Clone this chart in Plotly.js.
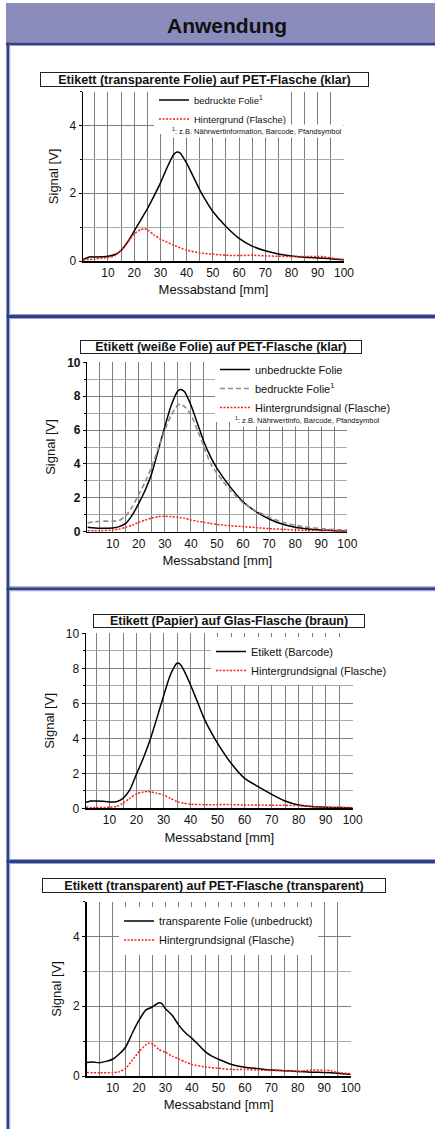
<!DOCTYPE html>
<html><head><meta charset="utf-8">
<script src="https://cdn.plot.ly/plotly-3.0.1.min.js"></script>
<style>html,body{margin:0;padding:0;background:#fff;overflow:hidden}#chart{width:435px;height:1129px}</style>
</head><body><div id="chart"></div>
<script>
// ---------- data ----------
const headerText = "Anwendung";
const xLabel = "Messabstand [mm]";
const yLabel = "Signal [V]";

// Chart 1: Etikett (transparente Folie) auf PET-Flasche (klar)
const title1 = "Etikett (transparente Folie) auf PET-Flasche (klar)";
const x1Folie = [0.5, 3, 5, 10, 13, 15, 17.5, 20, 22.5, 25, 27.5, 30, 32.5, 35, 36.3, 37.5, 40, 42.5, 45, 47.5, 50, 55, 60, 65, 70, 75, 80, 85, 90, 95, 100];
const y1Folie = [0.04, 0.12, 0.12, 0.14, 0.2, 0.31, 0.56, 0.88, 1.21, 1.54, 1.91, 2.3, 2.75, 3.14, 3.22, 3.19, 2.89, 2.5, 2.1, 1.76, 1.46, 1.02, 0.67, 0.44, 0.30, 0.21, 0.15, 0.11, 0.09, 0.07, 0.04];
const x1Grund = [0.5, 5, 10, 12.5, 15, 17.5, 20, 22.5, 24, 25.5, 27.5, 30, 35, 40, 45, 50, 55, 60, 65, 70, 75, 80, 85, 90, 92, 95, 100];
const y1Grund = [0.03, 0.06, 0.1, 0.15, 0.31, 0.54, 0.8, 0.93, 0.95, 0.9, 0.77, 0.65, 0.47, 0.32, 0.24, 0.2, 0.17, 0.16, 0.17, 0.15, 0.14, 0.13, 0.13, 0.13, 0.13, 0.09, 0.04];
const names1 = ["bedruckte Folie<sup>1</sup>", "Hintergrund (Flasche)"];
const note1 = "<sup>1</sup>: z.B. Nährwertinformation, Barcode, Pfandsymbol";

// Chart 2: Etikett (weiße Folie) auf PET-Flasche (klar)
const title2 = "Etikett (weiße Folie) auf PET-Flasche (klar)";
const x2 = [0.3, 5, 10, 12.5, 15, 17.5, 20, 22.5, 25, 27.5, 30, 32.5, 35, 36, 37.5, 40, 42.5, 45, 47.5, 50, 55, 60, 65, 70, 75, 80, 85, 90, 95, 100];
const y2Unbedruckt = [0.26, 0.2, 0.22, 0.3, 0.49, 0.98, 1.67, 2.46, 3.45, 4.82, 6.2, 7.48, 8.3, 8.4, 8.27, 7.48, 6.4, 5.31, 4.43, 3.74, 2.66, 1.77, 1.18, 0.75, 0.45, 0.26, 0.16, 0.1, 0.06, 0.04];
const y2Bedruckt = [0.52, 0.62, 0.62, 0.66, 0.93, 1.48, 2.2, 2.95, 3.84, 4.92, 6.0, 6.9, 7.48, 7.52, 7.4, 6.9, 6.0, 5.02, 4.04, 3.45, 2.46, 1.71, 1.22, 0.85, 0.57, 0.38, 0.26, 0.18, 0.12, 0.1];
const y2Grund = [0.06, 0.06, 0.1, 0.16, 0.26, 0.39, 0.55, 0.69, 0.81, 0.89, 0.91, 0.89, 0.85, 0.83, 0.8, 0.69, 0.62, 0.55, 0.49, 0.43, 0.35, 0.3, 0.24, 0.18, 0.14, 0.1, 0.08, 0.06, 0.06, 0.06];
const names2 = ["unbedruckte Folie", "bedruckte Folie<sup>1</sup>", "Hintergrundsignal (Flasche)"];
const note2 = "<sup>1</sup>: z.B. Nährwertinfo, Barcode, Pfandsymbol";

// Chart 3: Etikett (Papier) auf Glas-Flasche (braun)
const title3 = "Etikett (Papier) auf Glas-Flasche (braun)";
const x3Etikett = [1.3, 3, 5, 7.5, 10, 12.5, 15, 17.5, 20, 22.5, 25, 27.5, 30, 32.5, 35, 36, 37.5, 40, 42.5, 45, 47.5, 50, 55, 60, 65, 70, 75, 80, 85, 90, 95, 100];
const y3Etikett = [0.34, 0.42, 0.42, 0.4, 0.36, 0.38, 0.57, 1.05, 1.96, 2.86, 3.9, 5.14, 6.42, 7.62, 8.29, 8.25, 7.9, 7.05, 6.1, 5.14, 4.38, 3.71, 2.57, 1.71, 1.24, 0.8, 0.42, 0.19, 0.1, 0.06, 0.04, 0.02];
const x3Grund = [1.3, 5, 10, 12.5, 15, 17.5, 20, 22.5, 24, 25.5, 27.5, 30, 32.5, 35, 37.5, 40, 45, 50, 55, 60, 65, 70, 75, 80, 85, 90, 95, 100];
const y3Grund = [0.06, 0.04, 0.06, 0.1, 0.29, 0.57, 0.82, 0.93, 0.97, 0.94, 0.86, 0.76, 0.57, 0.38, 0.29, 0.23, 0.21, 0.21, 0.21, 0.19, 0.19, 0.17, 0.17, 0.15, 0.1, 0.06, 0.04, 0.04];
const names3 = ["Etikett (Barcode)", "Hintergrundsignal (Flasche)"];

// Chart 4: Etikett (transparent) auf PET-Flasche (transparent)
const title4 = "Etikett (transparent) auf PET-Flasche (transparent)";
const x4Folie = [0.2, 2.5, 5, 7.5, 10, 12.5, 15, 17.5, 20, 22.5, 25, 27.5, 28.5, 30, 32.5, 35, 37.5, 40, 42.5, 45, 47.5, 50, 55, 60, 65, 70, 75, 80, 85, 90, 95, 100];
const y4Folie = [0.39, 0.4, 0.38, 0.42, 0.48, 0.63, 0.84, 1.24, 1.6, 1.89, 1.98, 2.1, 2.08, 1.93, 1.74, 1.46, 1.24, 1.08, 0.89, 0.7, 0.57, 0.48, 0.33, 0.25, 0.21, 0.17, 0.15, 0.13, 0.11, 0.1, 0.08, 0.05];
const x4Grund = [0.2, 5, 10, 12.5, 15, 17.5, 20, 22.5, 24, 25.5, 27.5, 30, 32.5, 35, 37.5, 40, 45, 50, 55, 60, 65, 70, 75, 80, 85, 90, 92.5, 95, 100];
const y4Grund = [0.1, 0.09, 0.1, 0.12, 0.22, 0.46, 0.7, 0.89, 0.95, 0.9, 0.76, 0.68, 0.57, 0.49, 0.4, 0.33, 0.26, 0.22, 0.19, 0.19, 0.17, 0.16, 0.15, 0.13, 0.17, 0.17, 0.15, 0.1, 0.07];
const names4 = ["transparente Folie (unbedruckt)", "Hintergrundsignal (Flasche)"];

// ---------- layout helpers ----------
const W = 435, H = 1129;
const px = v => v / W;
const py = v => 1 - v / H;
const FONT = "Liberation Sans, Arial, Helvetica, sans-serif";
const BLUE = "#2f3f88", BLUE_L = "#9aa2cc", HEAD = "#8b8cbc";

const panels = [
  {left: 83, right: 344, top: 91.7, bottom: 261, xr: [0.5, 100], yr: [0, 5], bold: false},
  {left: 87.4, right: 347.3, top: 362.3, bottom: 531.7, xr: [0.3, 100], yr: [0, 10], bold: true},
  {left: 86, right: 352.7, top: 633.3, bottom: 808.3, xr: [1.3, 100], yr: [0, 10], bold: false},
  {left: 86.7, right: 350.7, top: 901.7, bottom: 1076, xr: [0.2, 100], yr: [0, 5], bold: false}
];

const layout = {
  width: W, height: H,
  margin: {l: 0, r: 0, t: 0, b: 0},
  paper_bgcolor: "#fff", plot_bgcolor: "#fff",
  font: {family: FONT, color: "#111", size: 12},
  showlegend: true,
  annotations: [], shapes: []
};

panels.forEach((p, i) => {
  const n = i + 1, s = n === 1 ? "" : String(n);
  layout["xaxis" + s] = {
    domain: [px(p.left), px(p.right)], range: p.xr, anchor: "y" + s,
    showline: true, linecolor: "#000", linewidth: 1.5,
    ticks: "", tick0: 0, dtick: 10,
    showgrid: true, gridcolor: "#7d7d7d", gridwidth: 1,
    minor: {dtick: 5, tick0: 0, showgrid: true, gridcolor: "#7d7d7d", gridwidth: 1},
    zeroline: false, fixedrange: true,
    tickfont: {size: 12, color: "#111"},
    title: {text: xLabel, font: {size: 13, color: "#111"}, standoff: 6}
  };
  layout["yaxis" + s] = {
    domain: [py(p.bottom), py(p.top)], range: p.yr, anchor: "x" + s,
    showline: true, linecolor: "#000", linewidth: 1.5,
    ticks: "outside", ticklen: 3, tickcolor: "#000", tick0: 0, dtick: 2,
    showgrid: true, gridcolor: "#808080", gridwidth: 1,
    minor: {dtick: 1, tick0: 0, ticks: "outside", ticklen: 2, tickcolor: "#000", showgrid: true, gridcolor: "#a9a9a9", gridwidth: 1},
    zeroline: false, fixedrange: true,
    tickfont: {size: 12, color: "#111", weight: p.bold ? "bold" : "normal"},
    title: {text: yLabel, font: {size: 13, color: "#111"}, standoff: 8}
  };
  layout["xaxis" + (n + 4)] = {
    overlaying: "x" + s, anchor: "y" + s, side: "top", range: p.xr,
    ticks: "inside", ticklen: 3, tickcolor: "#555", tick0: 0, dtick: 5,
    showticklabels: false, showgrid: false, zeroline: false, showline: false, fixedrange: true,
    title: {text: ""}
  };
});

// frame
layout.shapes.push(
  {type: "rect", xref: "paper", yref: "paper", x0: px(6), x1: 1, y0: py(42.5), y1: py(3), fillcolor: HEAD, line: {width: 0}},
  {type: "rect", xref: "paper", yref: "paper", x0: px(6), x1: 1, y0: py(45.5), y1: py(42.5), fillcolor: BLUE, line: {width: 0}},
  {type: "rect", xref: "paper", yref: "paper", x0: px(6.5), x1: px(9.3), y0: 0, y1: py(42.5), fillcolor: BLUE, line: {width: 0}},
  {type: "rect", xref: "paper", yref: "paper", x0: px(9.3), x1: px(10.3), y0: 0, y1: py(45.5), fillcolor: BLUE_L, line: {width: 0}}
);
[315, 587.3, 860].forEach(yy => {
  layout.shapes.push(
    {type: "rect", xref: "paper", yref: "paper", x0: px(6.5), x1: 1, y0: py(yy + 3), y1: py(yy), fillcolor: BLUE, line: {width: 0}},
    {type: "rect", xref: "paper", yref: "paper", x0: px(9.3), x1: 1, y0: py(yy + 4), y1: py(yy + 3), fillcolor: BLUE_L, line: {width: 0}},
    {type: "rect", xref: "paper", yref: "paper", x0: px(9.3), x1: 1, y0: py(yy), y1: py(yy - 1), fillcolor: BLUE_L, line: {width: 0}}
  );
});

// header
layout.annotations.push({
  text: headerText, xref: "paper", yref: "paper", x: px(227), y: py(25), xanchor: "center", yanchor: "middle",
  showarrow: false, font: {family: FONT, size: 21, weight: "bold", color: "#111"}
});

// chart title boxes
const titleBoxes = [
  {t: title1, x0: 40, x1: 369, y0: 72, y1: 87},
  {t: title2, x0: 80, x1: 362, y0: 340, y1: 354},
  {t: title3, x0: 93, x1: 365, y0: 614, y1: 628},
  {t: title4, x0: 42, x1: 386, y0: 878, y1: 893}
];
titleBoxes.forEach(b => {
  layout.annotations.push({
    text: b.t, xref: "paper", yref: "paper", x: px((b.x0 + b.x1) / 2), y: py((b.y0 + b.y1) / 2),
    xanchor: "center", yanchor: "middle", showarrow: false,
    width: b.x1 - b.x0 - 2, height: b.y1 - b.y0 - 2, borderpad: 0,
    bordercolor: "#222", borderwidth: 1, bgcolor: "#fff",
    font: {family: FONT, size: 12.5, weight: "bold", color: "#111"}
  });
});

// legends
const legendPos = [
  {x: 154, y: 85.5, size: 9.5},
  {x: 215, y: 355, size: 11},
  {x: 211, y: 637, size: 11},
  {x: 119, y: 906.5, size: 11}
];
legendPos.forEach((l, i) => {
  layout[i === 0 ? "legend" : "legend" + (i + 1)] = {
    x: px(l.x), y: py(l.y), xanchor: "left", yanchor: "top",
    bgcolor: "#fff", borderwidth: 0, tracegroupgap: 0, itemwidth: 30,
    font: {family: FONT, size: l.size, color: "#111"}
  };
});

// footnotes
layout.annotations.push(
  {text: note1, xref: "paper", yref: "paper", x: px(170), y: py(131), xanchor: "left", yanchor: "middle",
   showarrow: false, bgcolor: "#fff", font: {family: FONT, size: 7.5, color: "#111"}},
  {text: note2, xref: "paper", yref: "paper", x: px(233), y: py(420), xanchor: "left", yanchor: "middle",
   showarrow: false, bgcolor: "#fff", font: {family: FONT, size: 7.5, color: "#111"}}
);

// ---------- traces ----------
const solid = {color: "#000", width: 1.5, shape: "spline", smoothing: 0.6};
const red = {color: "#ff1a1a", width: 1.5, dash: "2px,1.5px", shape: "spline", smoothing: 0.6};
const gray = {color: "#8c8c8c", width: 1.6, dash: "5px,3px", shape: "spline", smoothing: 0.6};

const data = [
  {x: x1Folie, y: y1Folie, name: names1[0], xaxis: "x", yaxis: "y", legend: "legend", mode: "lines", line: solid},
  {x: x1Grund, y: y1Grund, name: names1[1], xaxis: "x", yaxis: "y", legend: "legend", mode: "lines", line: red},

  {x: x2, y: y2Unbedruckt, name: names2[0], xaxis: "x2", yaxis: "y2", legend: "legend2", mode: "lines", line: solid},
  {x: x2, y: y2Bedruckt, name: names2[1], xaxis: "x2", yaxis: "y2", legend: "legend2", mode: "lines", line: gray},
  {x: x2, y: y2Grund, name: names2[2], xaxis: "x2", yaxis: "y2", legend: "legend2", mode: "lines", line: red},

  {x: x3Etikett, y: y3Etikett, name: names3[0], xaxis: "x3", yaxis: "y3", legend: "legend3", mode: "lines", line: solid},
  {x: x3Grund, y: y3Grund, name: names3[1], xaxis: "x3", yaxis: "y3", legend: "legend3", mode: "lines", line: red},

  {x: x4Folie, y: y4Folie, name: names4[0], xaxis: "x4", yaxis: "y4", legend: "legend4", mode: "lines", line: solid},
  {x: x4Grund, y: y4Grund, name: names4[1], xaxis: "x4", yaxis: "y4", legend: "legend4", mode: "lines", line: red}
];

Plotly.newPlot("chart", data, layout, {staticPlot: true, displayModeBar: false});
</script></body></html>
